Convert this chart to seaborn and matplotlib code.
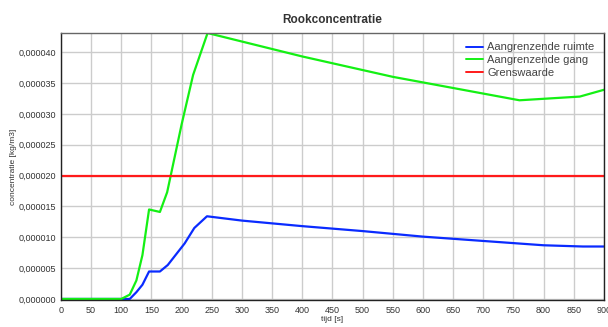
import matplotlib
matplotlib.use("Agg")
import matplotlib.pyplot as plt
import matplotlib.ticker as mticker
import seaborn as sns
import pandas as pd

# Time points (s) and smoke concentrations (kg/m3)
tijd_ruimte = [0, 100, 114, 125, 135, 146, 164, 177, 205, 221, 242, 300, 400, 500, 600, 700, 800, 865, 900]
ruimte = [0, 0, 0, 1.1e-6, 2.3e-6, 4.45e-6, 4.45e-6, 5.5e-6, 9.0e-6, 11.5e-6, 13.4e-6,
          12.7e-6, 11.8e-6, 11.0e-6, 10.1e-6, 9.4e-6, 8.7e-6, 8.5e-6, 8.5e-6]

tijd_gang = [0, 100, 114, 125, 135, 146, 164, 176, 200, 219, 243, 400, 550, 760, 860, 900]
gang = [0, 0, 0.7e-6, 3.0e-6, 7.1e-6, 14.5e-6, 14.1e-6, 17.3e-6, 28.3e-6, 36.3e-6, 43.1e-6,
        39.3e-6, 36.0e-6, 32.2e-6, 32.8e-6, 33.9e-6]

tijd_grens = [0, 900]
grens = [2.0e-5, 2.0e-5]

series = ["Aangrenzende ruimte", "Aangrenzende gang", "Grenswaarde"]
kleuren = ["#0a2bff", "#14f014", "#ff1a1a"]

df = pd.concat([
    pd.DataFrame({"tijd": tijd_ruimte, "conc": ruimte, "reeks": series[0]}),
    pd.DataFrame({"tijd": tijd_gang, "conc": gang, "reeks": series[1]}),
    pd.DataFrame({"tijd": tijd_grens, "conc": grens, "reeks": series[2]}),
])

sns.set_style("white")
plt.rcParams["font.family"] = ["Liberation Sans", "DejaVu Sans"]

fig = plt.figure(figsize=(6.08, 3.27), dpi=100)
ax = fig.add_axes([0.1003, 0.082, 0.893, 0.817])

sns.lineplot(data=df, x="tijd", y="conc", hue="reeks", hue_order=series,
             palette=kleuren, linewidth=1.6, ax=ax, sort=False)

ax.set_xlim(0, 900)
ax.set_ylim(-0.0000002, 0.0000431)
ax.xaxis.set_major_locator(mticker.MultipleLocator(50))
ax.yaxis.set_major_locator(mticker.MultipleLocator(0.000005))
ax.yaxis.set_major_formatter(mticker.FuncFormatter(lambda v, p: f"{v:.6f}".replace(".", ",").replace("-", "")))

ax.grid(True, color="#cccccc", linewidth=1.0)
ax.set_axisbelow(True)
for side in ["left", "bottom", "right", "top"]:
    ax.spines[side].set_visible(True)
    ax.spines[side].set_color("#222222")
    ax.spines[side].set_linewidth(1.0)
ax.spines["top"].set_color("#666666")

ax.tick_params(axis="y", direction="out", length=3, width=0.8, color="#777777",
               labelsize=6.5, labelcolor="#333333", pad=0.5)
ax.tick_params(axis="x", direction="in", length=3, width=0.8, color="#777777",
               labelsize=6.5, labelcolor="#333333", pad=4)

ax.set_xlabel("tijd [s]", fontsize=6, color="#333333", labelpad=1)
ax.set_ylabel("concentratie [kg/m3]", fontsize=6, color="#333333", labelpad=1)
ax.set_title("Rookconcentratie", fontsize=8.5, fontweight="bold", color="#333333", pad=7)

leg = ax.legend(loc="upper right", frameon=False, fontsize=8, handlelength=1.6,
                handletextpad=0.35, labelspacing=0.25, borderaxespad=0.45,
                bbox_to_anchor=(1.0, 1.0))
for line in leg.get_lines():
    line.set_linewidth(1.4)
for txt in leg.get_texts():
    txt.set_color("#444444")

fig.savefig("out.png", dpi=100)
